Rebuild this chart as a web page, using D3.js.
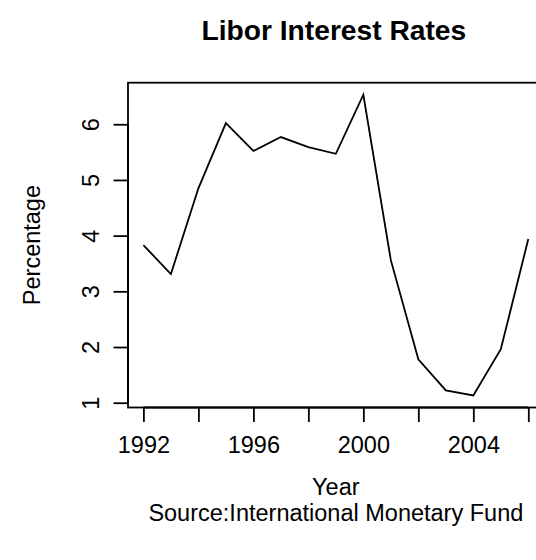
<!DOCTYPE html>
<html>
<head>
<meta charset="utf-8">
<script src="https://cdn.jsdelivr.net/npm/d3@7"></script>
<style>
  html, body { margin: 0; padding: 0; background: #fff; }
  svg { display: block; }
  text { font-family: "Liberation Sans", Arial, Helvetica, sans-serif; fill: #000; }
</style>
</head>
<body>
<script>
// ---- data ----
const years = [1992, 1993, 1994, 1995, 1996, 1997, 1998, 1999, 2000, 2001, 2002, 2003, 2004, 2005, 2006];
const rates = [3.83, 3.31, 4.85, 6.02, 5.52, 5.77, 5.59, 5.47, 6.53, 3.56, 1.78, 1.22, 1.13, 1.96, 3.94];
const xTickValues = [1992, 1994, 1996, 1998, 2000, 2002, 2004, 2006];
const xTickLabels = ["1992", "", "1996", "", "2000", "", "2004", ""];
const yTickValues = [1, 2, 3, 4, 5, 6];
const yTickLabels = ["1", "2", "3", "4", "5", "6"];
const titleText = "Libor Interest Rates";
const xLabelText = "Year";
const yLabelText = "Percentage";
const sourceText = "Source:International Monetary Fund";

// ---- layout ----
const W = 536, H = 560;
const fs = 23.5;
const plot = { left: 128, right: 543.7, top: 82.7, bottom: 407.5 };

const svg = d3.select("body").append("svg").attr("width", W).attr("height", H);

// R-style 4% padding
const xr = d3.extent(years), yr = d3.extent(rates);
const xPad = (xr[1] - xr[0]) * 0.04, yPad = (yr[1] - yr[0]) * 0.04;
const x = d3.scaleLinear().domain([xr[0] - xPad, xr[1] + xPad]).range([plot.left, plot.right]);
const y = d3.scaleLinear().domain([yr[0] - yPad, yr[1] + yPad]).range([plot.bottom, plot.top]);

// box
svg.append("rect")
  .attr("x", plot.left).attr("y", plot.top)
  .attr("width", plot.right - plot.left).attr("height", plot.bottom - plot.top)
  .attr("fill", "none").attr("stroke", "#000").attr("stroke-width", 1.8);

// line
const line = d3.line().x((d, i) => x(years[i])).y(d => y(d));
svg.append("path").datum(rates)
  .attr("d", line).attr("fill", "none")
  .attr("stroke", "#000").attr("stroke-width", 1.8).attr("stroke-linejoin", "miter");

// x axis
const xAxis = d3.axisBottom(x).tickValues(xTickValues)
  .tickFormat((d, i) => xTickLabels[i]).tickSize(14.5).tickSizeOuter(0).tickPadding(14);
const gx = svg.append("g").attr("transform", `translate(0,${plot.bottom})`).call(xAxis);
gx.select(".domain")
  .attr("d", `M${x(xTickValues[0])},0H${x(xTickValues[xTickValues.length - 1])}`)
  .attr("stroke-width", 1.8);
gx.selectAll(".tick line").attr("stroke-width", 1.8);
gx.selectAll(".tick text").attr("font-size", fs).attr("font-family", '"Liberation Sans", Arial, sans-serif');

// y axis
const yAxis = d3.axisLeft(y).tickValues(yTickValues)
  .tickFormat((d, i) => yTickLabels[i]).tickSize(14.5).tickSizeOuter(0);
const gy = svg.append("g").attr("transform", `translate(${plot.left},0)`).call(yAxis);
gy.select(".domain")
  .attr("d", `M0,${y(yTickValues[0])}V${y(yTickValues[yTickValues.length - 1])}`)
  .attr("stroke-width", 1.8);
gy.selectAll(".tick line").attr("stroke-width", 1.8);
gy.selectAll(".tick text")
  .attr("font-size", fs).attr("font-family", '"Liberation Sans", Arial, sans-serif')
  .attr("x", null).attr("dy", null)
  .attr("text-anchor", "middle")
  .attr("transform", "translate(-29,0) rotate(-90)");

const cx = (plot.left + plot.right) / 2;

// title
svg.append("text").attr("x", cx - 2).attr("y", 40)
  .attr("text-anchor", "middle").attr("font-size", fs * 1.2).attr("font-weight", "bold")
  .text(titleText);

// x label
svg.append("text").attr("x", cx).attr("y", 495)
  .attr("text-anchor", "middle").attr("font-size", fs).text(xLabelText);

// source
svg.append("text").attr("x", cx).attr("y", 521)
  .attr("text-anchor", "middle").attr("font-size", fs).text(sourceText);

// y label
svg.append("text")
  .attr("transform", `translate(40,${(plot.top + plot.bottom) / 2}) rotate(-90)`)
  .attr("text-anchor", "middle").attr("font-size", fs).text(yLabelText);
</script>
</body>
</html>
